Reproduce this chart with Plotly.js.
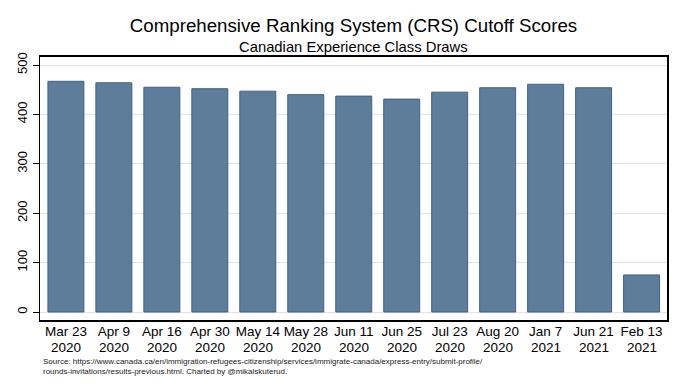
<!DOCTYPE html>
<html>
<head>
<meta charset="utf-8">
<script src="https://cdn.plot.ly/plotly-3.0.1.min.js"></script>
<style>html,body{margin:0;padding:0;background:#fff;}#chart{width:682px;height:389px;}</style>
</head>
<body>
<div id="chart"></div>
<script>
// Data
const drawDates = ["Mar 23","Apr 9","Apr 16","Apr 30","May 14","May 28","Jun 11","Jun 25","Jul 23","Aug 20","Jan 7","Jun 21","Feb 13"];
const drawYears = ["2020","2020","2020","2020","2020","2020","2020","2020","2020","2020","2021","2021","2021"];
const crsScores = [467,464,455,452,447,440,437,431,445,454,461,454,75];
const yTickVals = [0,100,200,300,400,500];

const positions = drawDates.map((d,i) => i);
const font = "Liberation Sans, Arial, sans-serif";
const xRange = [-0.54, 12.53];

const trace = {
  type: "bar",
  x: positions,
  y: crsScores,
  width: 0.75,
  marker: {color: "#5e7d9a", line: {color: "#3f6286", width: 1}},
  textposition: "none",
  hovertext: drawDates.map((d,i) => d + " " + drawYears[i]),
  hoverinfo: "text+y"
};

const yearAnnotations = drawYears.map((yr,i) => ({
  text: yr, xref: "x", yref: "paper", x: positions[i], y: -(347.5-320)/263,
  xanchor: "center", yanchor: "middle", showarrow: false,
  borderpad: 0,
  font: {family: font, size: 13.5, color: "#000"}
}));

const layout = {
  width: 682, height: 389,
  margin: {l: 40, r: 15, t: 57, b: 69, pad: 0},
  paper_bgcolor: "#ffffff", plot_bgcolor: "#ffffff",
  font: {family: font, color: "#000"},
  showlegend: false,
  title: {
    text: "Comprehensive Ranking System (CRS) Cutoff Scores",
    font: {family: font, size: 18.7, color: "#000"},
    x: 0.5, xref: "paper", xanchor: "center",
    y: 1 - 25/389, yref: "container", yanchor: "middle"
  },
  xaxis: {
    range: xRange,
    tickvals: positions,
    ticktext: drawDates,
    showgrid: false, zeroline: false,
    showline: true, linecolor: "#000", linewidth: 2, mirror: true,
    ticks: "", tickfont: {family: font, size: 13.5, color: "#000"},
    tickangle: 0,
    ticklabelstandoff: -2,
    fixedrange: true
  },
  yaxis: {
    range: [-16.2, 516.2],
    tickvals: yTickVals,
    ticktext: yTickVals.map(String),
    tickangle: -90,
    tickfont: {family: font, size: 13, color: "#000"},
    ticks: "outside", ticklen: 6, tickcolor: "#000", tickwidth: 1,
    showgrid: true, gridcolor: "#e3e3e3", gridwidth: 1,
    zeroline: false,
    showline: true, linecolor: "#000", linewidth: 1.5, mirror: true,
    fixedrange: true
  },
  annotations: [
    {
      text: "Canadian Experience Class Draws",
      xref: "paper", yref: "paper", x: 0.5, y: 1 + 10/263,
      xanchor: "center", yanchor: "middle", showarrow: false,
      font: {family: font, size: 14.8, color: "#000"}
    },
    {
      text: "Source: https://www.canada.ca/en/immigration-refugees-citizenship/services/immigrate-canada/express-entry/submit-profile/<br>rounds-invitations/results-previous.html. Charted by @mikalskuterud.",
      xref: "paper", yref: "paper", x: 2/627, y: -(366-320)/263,
      xanchor: "left", yanchor: "middle", align: "left", showarrow: false,
      borderpad: 0,
      font: {family: font, size: 8, color: "#222"}
    }
  ].concat(yearAnnotations)
};

Plotly.newPlot("chart", [trace], layout, {displayModeBar: false, staticPlot: true});
</script>
</body>
</html>
